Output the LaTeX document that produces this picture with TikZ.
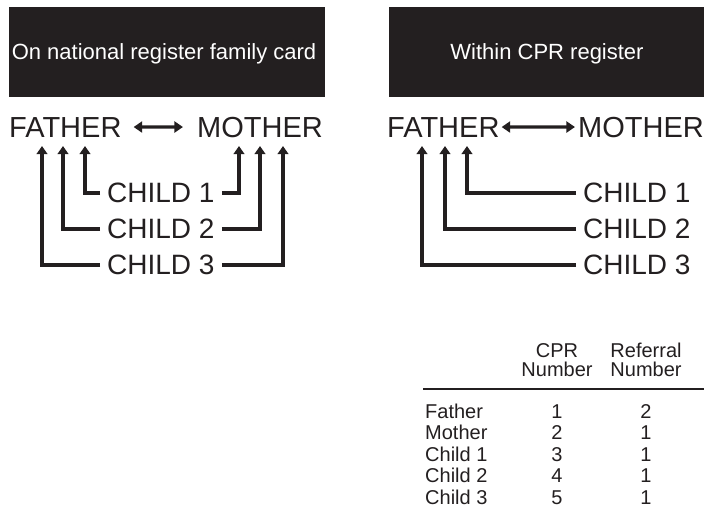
\documentclass[tikz,border=0pt]{standalone}
\usepackage{fontspec}
\setmainfont{Liberation Sans}
\usetikzlibrary{arrows.meta}
\definecolor{ink}{HTML}{231F20}
\begin{document}
\begin{tikzpicture}[x=1pt,y=-1pt,
  hdrbox/.style={fill=ink, draw=none, anchor=north west, inner sep=0pt},
  hdrtext/.style={text=white, font=\fontsize{22}{26}\selectfont, inner sep=0pt, text depth=0pt},
  big/.style={text=ink, font=\fontsize{29}{34}\selectfont, inner sep=0pt},
  child/.style={text=ink, font=\fontsize{28}{32}\selectfont, inner xsep=7pt, inner ysep=0pt, anchor=west},
  conn/.style={draw=ink, line width=3.4pt, -{Triangle[length=8pt,width=10.5pt]}},
  dbl/.style={draw=ink, line width=3.4pt, {Triangle[length=8.5pt,width=11pt]}-{Triangle[length=8.5pt,width=11pt]}},
  tab/.style={text=ink, font=\fontsize{20}{22}\selectfont, inner sep=0pt, anchor=base},
  tabl/.style={tab, anchor=base west},
  rulel/.style={draw=ink, line width=2.6pt}]
\useasboundingbox (0,0) rectangle (704,522);

% header boxes
\node[hdrbox, minimum width=316pt, minimum height=90pt] (boxL) at (9,7) {};
\node[hdrbox, minimum width=315pt, minimum height=90pt] (boxR) at (389,7) {};
\node[hdrtext] (tL) at (164,52) {On national register family card};
\node[hdrtext] (tR) at (547,52) {Within CPR register};

% left diagram
\node[big, anchor=base west] (fL) at (9,137) {FATHER};
\node[big, anchor=base east] (mL) at (323,137) {MOTHER};
\draw[dbl, shorten <=12pt, shorten >=14pt] (fL.east) -- (mL.west);

\node[child] (c1L) at (100,193) {CHILD 1};
\node[child] (c2L) at (100,229) {CHILD 2};
\node[child] (c3L) at (100,265) {CHILD 3};

\coordinate (fL1) at (85,146);
\coordinate (fL2) at (63,146);
\coordinate (fL3) at (42,146);
\coordinate (mL1) at (239,146);
\coordinate (mL2) at (260,146);
\coordinate (mL3) at (283,146);

\draw[conn] (c1L.west) -| (fL1);
\draw[conn] (c2L.west) -| (fL2);
\draw[conn] (c3L.west) -| (fL3);
\draw[conn] (c1L.east) -| (mL1);
\draw[conn] (c2L.east) -| (mL2);
\draw[conn] (c3L.east) -| (mL3);

% right diagram
\node[big, anchor=base west] (fR) at (387,137) {FATHER};
\node[big, anchor=base east] (mR) at (704,137) {MOTHER};
\draw[dbl, shorten <=2pt, shorten >=3pt] (fR.east) -- (mR.west);

\node[child] (c1R) at (576,193) {CHILD 1};
\node[child] (c2R) at (576,229) {CHILD 2};
\node[child] (c3R) at (576,265) {CHILD 3};

\coordinate (fR1) at (467,146);
\coordinate (fR2) at (445,146);
\coordinate (fR3) at (422,146);

\draw[conn] (c1R.west) -| (fR1);
\draw[conn] (c2R.west) -| (fR2);
\draw[conn] (c3R.west) -| (fR3);

% table
\node[tab] (hA1) at (557,357) {CPR};
\node[tab] (hA2) at (557,376) {Number};
\node[tab] (hB1) at (646,357) {Referral};
\node[tab] (hB2) at (646,376) {Number};
\coordinate (ruleA) at (423,389);
\coordinate (ruleB) at (704,389);
\draw[rulel] (ruleA) -- (ruleB);

\node[tabl] (r1) at (425,418) {Father};
\node[tabl] (r2) at (425,439.5) {Mother};
\node[tabl] (r3) at (425,461) {Child 1};
\node[tabl] (r4) at (425,482.5) {Child 2};
\node[tabl] (r5) at (425,504) {Child 3};

\node[tab] (a1) at (557,418) {1};
\node[tab] (a2) at (557,439.5) {2};
\node[tab] (a3) at (557,461) {3};
\node[tab] (a4) at (557,482.5) {4};
\node[tab] (a5) at (557,504) {5};

\node[tab] (b1) at (646,418) {2};
\node[tab] (b2) at (646,439.5) {1};
\node[tab] (b3) at (646,461) {1};
\node[tab] (b4) at (646,482.5) {1};
\node[tab] (b5) at (646,504) {1};
\end{tikzpicture}
\end{document}
